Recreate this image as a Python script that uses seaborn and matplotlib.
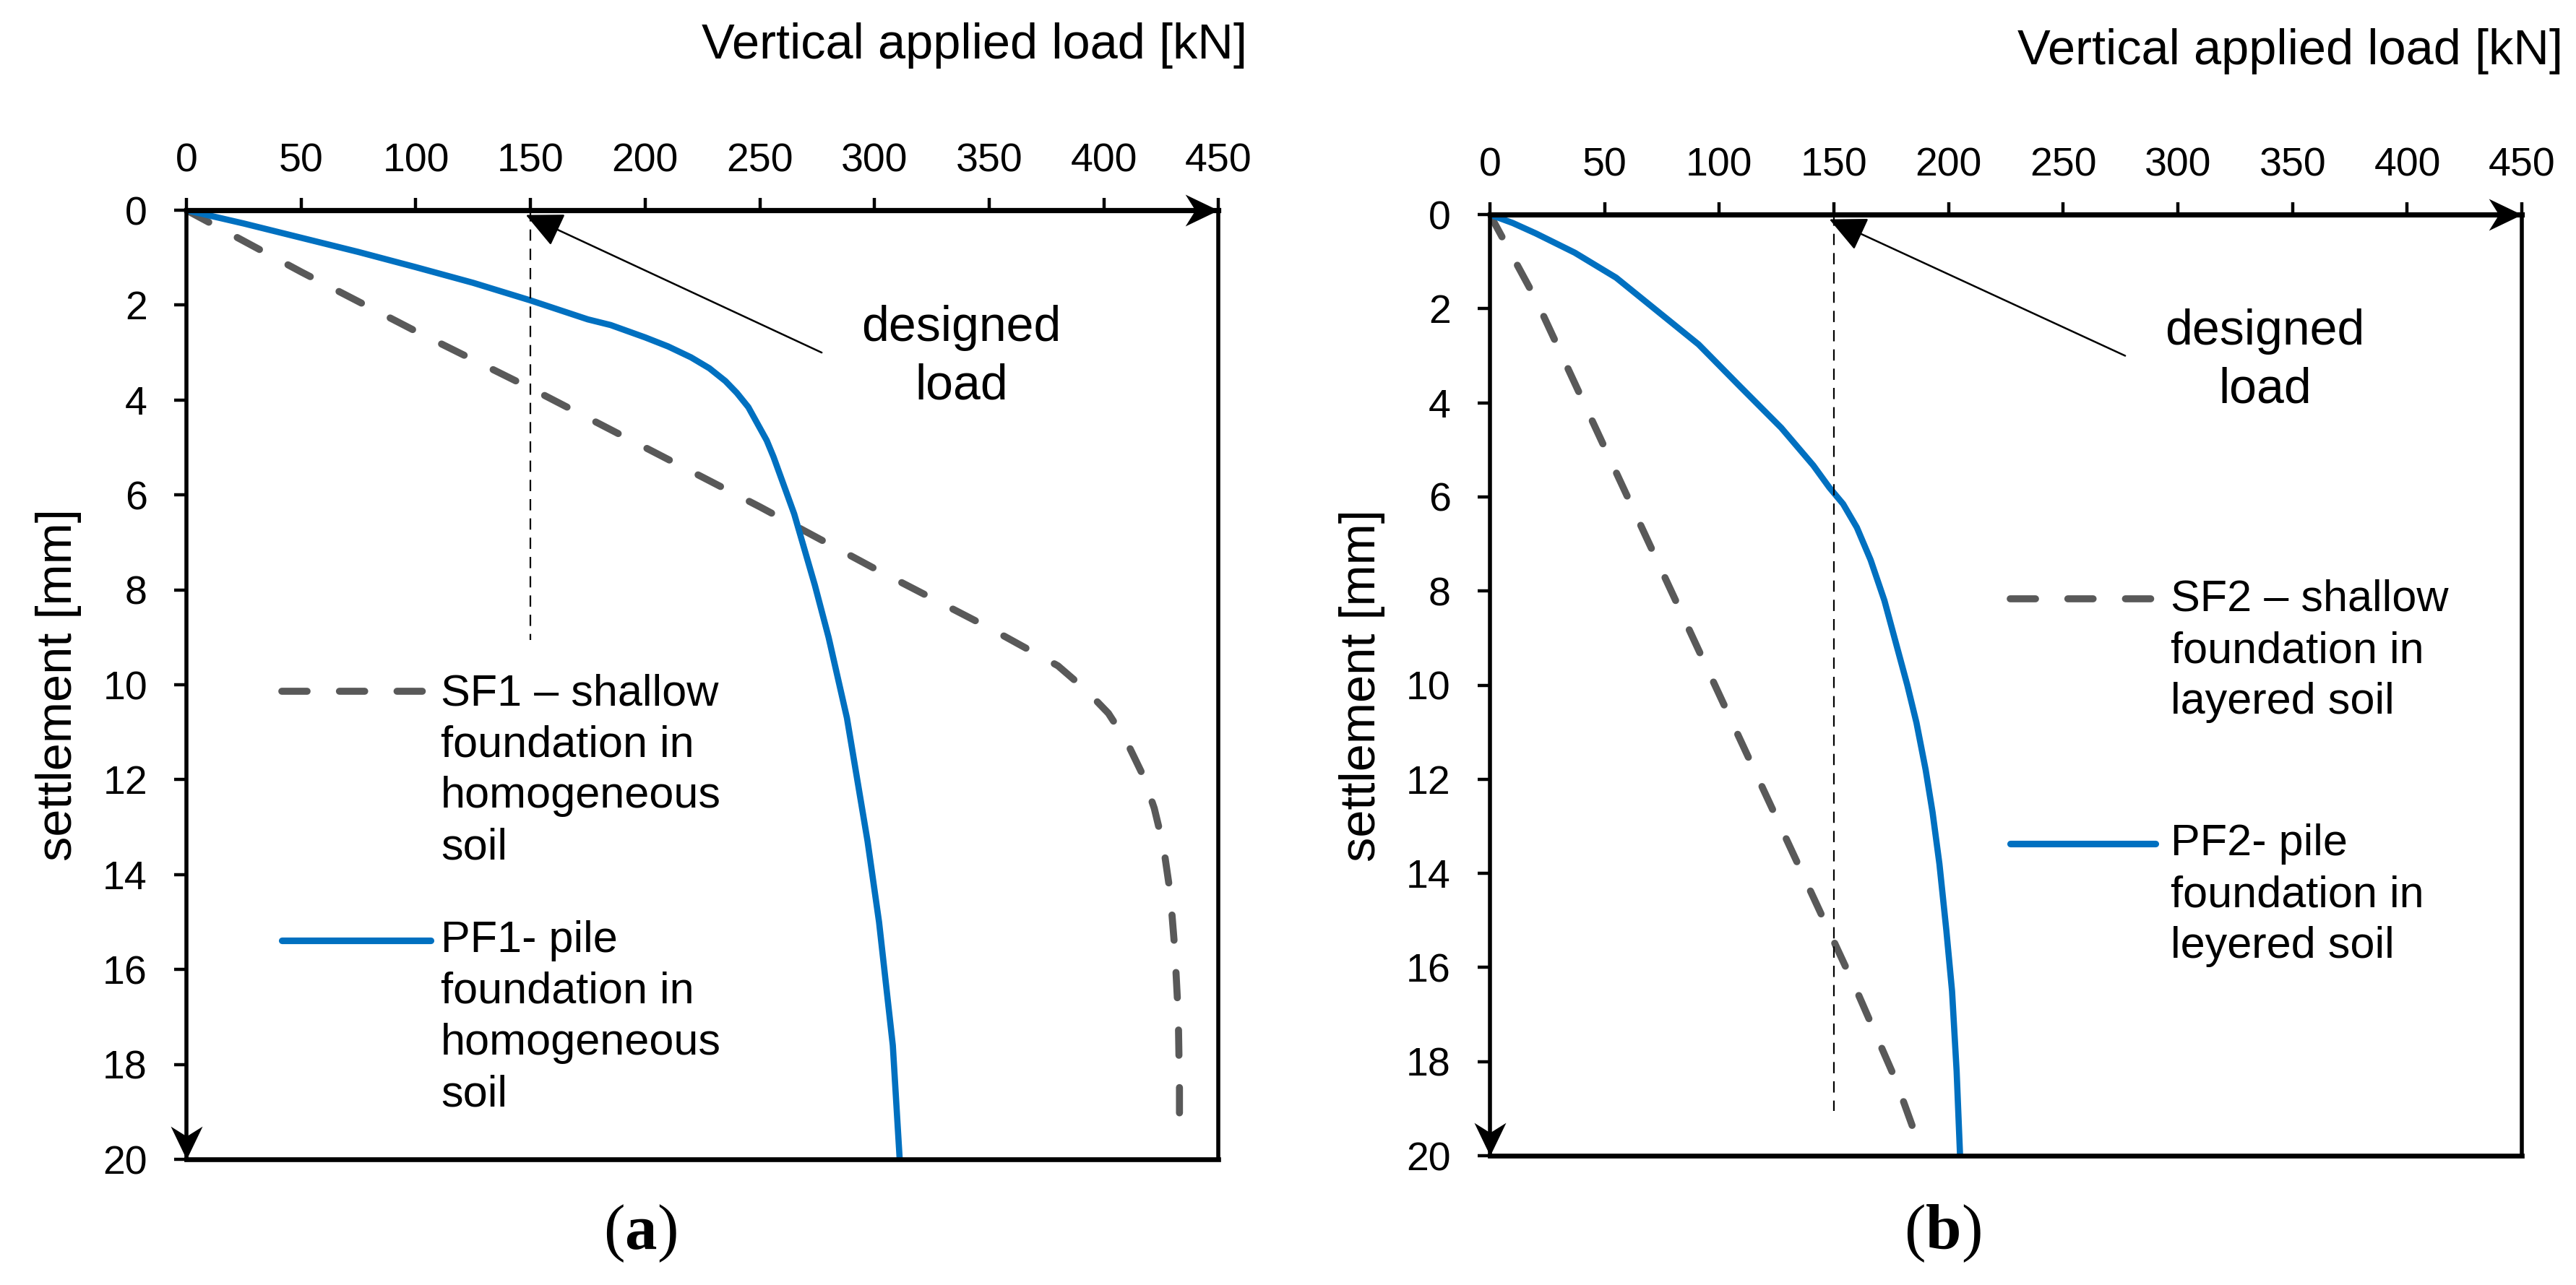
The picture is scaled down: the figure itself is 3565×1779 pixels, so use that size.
import matplotlib
matplotlib.use("Agg")
import matplotlib.pyplot as plt
from matplotlib.path import Path
import seaborn as sns

# values: load [kN] -> settlement [mm]
sf1_load = [0, 50, 100, 150, 200, 250, 275, 300, 330, 350, 365, 380, 392, 402, 410,
            417, 422, 426, 429, 431, 432.5, 433, 433]
sf1_settl = [0, 1.3, 2.55, 3.75, 5.0, 6.25, 6.9, 7.55, 8.3, 8.8, 9.2, 9.6, 10.1, 10.6, 11.2,
             11.9, 12.6, 13.4, 14.4, 15.6, 17.0, 18.5, 19.6]

pf1_load = [0, 25, 50, 75, 100, 125, 150, 175, 185, 200, 210, 220, 228, 235, 240, 245,
            249, 253, 256, 259, 262, 265, 268, 274, 280, 288, 297, 302, 308, 311]
pf1_settl = [0, 0.28, 0.58, 0.88, 1.2, 1.53, 1.9, 2.3, 2.42, 2.68, 2.87, 3.1, 3.33, 3.6, 3.85,
             4.15, 4.5, 4.85, 5.2, 5.6, 6.0, 6.4, 6.9, 7.9, 9.0, 10.7, 13.3, 15.0, 17.6, 20.0]

sf2_load = [0, 20, 40, 60, 80, 100, 120, 140, 160, 177, 187]
sf2_settl = [0, 1.8, 3.9, 6.0, 8.1, 10.2, 12.3, 14.4, 16.5, 18.4, 19.75]

pf2_load = [0, 10, 20, 37, 55, 73, 91, 109, 127, 141, 148, 154, 160, 166, 172, 177, 182,
            186, 190, 193, 196, 199, 201.5, 203.5, 205]
pf2_settl = [0, 0.18, 0.4, 0.81, 1.34, 2.05, 2.76, 3.65, 4.53, 5.33, 5.8, 6.15, 6.65, 7.34,
             8.2, 9.1, 10.0, 10.8, 11.8, 12.7, 13.8, 15.2, 16.5, 18.2, 20.0]

design_load = 150
guide_end = [9.05, 19.05]
x_ticks = list(range(0, 451, 50))
y_ticks = list(range(0, 21, 2))

sf_labels = ["SF1 \u2013 shallow\nfoundation in\nhomogeneous\nsoil",
             "SF2 \u2013 shallow\nfoundation in\nlayered soil"]
pf_labels = ["PF1- pile\nfoundation in\nhomogeneous\nsoil",
             "PF2- pile\nfoundation in\nleyered soil"]
panel_tags = [r"$\mathrm{(}\mathbf{a}\mathrm{)}$", r"$\mathrm{(}\mathbf{b}\mathrm{)}$"]

sns.set_theme(style="white", rc={"axes.edgecolor": "black", "xtick.color": "black",
                                 "ytick.color": "black", "text.color": "black",
                                 "axes.labelcolor": "black"})
plt.rcParams["font.family"] = ["Liberation Sans", "DejaVu Sans"]
plt.rcParams["mathtext.fontset"] = "custom"
plt.rcParams["mathtext.rm"] = "Liberation Serif"
plt.rcParams["mathtext.bf"] = "Liberation Serif:bold"

GREY = "#595959"
BLUE = "#0070C0"
DASH = (0, (3.6, 4.6))

# concave arrow heads for the axis ends
C = [Path.MOVETO, Path.LINETO, Path.LINETO, Path.LINETO, Path.CLOSEPOLY]
arrow_right = Path([(0, 0), (-1, 0.48), (-0.7, 0), (-1, -0.48), (0, 0)], C)
arrow_down = Path([(0, 0), (0.48, 1), (0, 0.7), (-0.48, 1), (0, 0)], C)

fig = plt.figure(figsize=(17.825, 8.895), dpi=200)
ax1 = fig.add_axes([0.0724, 0.0978, 0.4006, 0.7386])
ax2 = fig.add_axes([0.5784, 0.1006, 0.4006, 0.7324])

panels = [
    (ax1, sf1_load, sf1_settl, pf1_load, pf1_settl,
     dict(hx=(0.0924, 0.2367), tx=0.2465, sy=0.4932, st=0.512, py=0.2306, pt=0.252, title_x=1.028)),
    (ax2, sf2_load, sf2_settl, pf2_load, pf2_settl,
     dict(hx=(0.504, 0.645), tx=0.6597, sy=0.5917, st=0.6125, py=0.3315, pt=0.353, title_x=1.04)),
]

for i, (ax, sl, ss, pl, ps, leg) in enumerate(panels):
    sns.lineplot(x=sl, y=ss, ax=ax, sort=False, estimator=None, color=GREY,
                 linewidth=3.5, linestyle=DASH, dash_capstyle="round")
    sns.lineplot(x=pl, y=ps, ax=ax, sort=False, estimator=None, color=BLUE,
                 linewidth=3.1)

    ax.vlines(design_load, 0, guide_end[i], colors="black", linewidth=0.8,
              linestyles=[(0, (7, 5))])
    ax.annotate("", xy=(design_load - 2, 0.1), xytext=(277, 3.0),
                arrowprops=dict(arrowstyle="-|>,head_length=0.8,head_width=0.38",
                                mutation_scale=20, lw=0.9, color="black",
                                shrinkA=0, shrinkB=0))
    ax.text(338, 3.1, "designed\nload", ha="center", va="center",
            fontsize=24.5, linespacing=1.33)

    ax.set_xlim(0, 450)
    ax.set_ylim(20, 0)
    ax.set_xticks(x_ticks)
    ax.set_yticks(y_ticks)
    ax.xaxis.tick_top()
    ax.tick_params(axis="x", top=True, bottom=False, direction="out", length=6,
                   width=1.6, pad=9, labelsize=20, colors="black")
    ax.tick_params(axis="y", left=True, direction="out", length=6,
                   width=1.6, pad=13.5, labelsize=20, colors="black")
    ax.set_xlabel("")
    ax.set_ylabel("settlement [mm]", fontsize=24.7)
    ax.yaxis.set_label_coords(-0.1015, 0.5)
    ax.text(leg["title_x"], 1.16, "Vertical applied load [kN]", transform=ax.transAxes,
            ha="right", va="baseline", fontsize=24.7)

    for side, w in [("top", 2.6), ("bottom", 2.4), ("left", 2.0), ("right", 2.0)]:
        ax.spines[side].set_visible(True)
        ax.spines[side].set_linewidth(w)
        ax.spines[side].set_color("black")

    ax.plot([1], [1], transform=ax.transAxes, marker=arrow_right, ms=33,
            color="black", mew=0, linestyle="none", clip_on=False, zorder=5)
    ax.plot([0], [0], transform=ax.transAxes, marker=arrow_down, ms=33,
            color="black", mew=0, linestyle="none", clip_on=False, zorder=5)

    # hand-made legend, handle aligned with the first text line
    ax.plot(leg["hx"], [leg["sy"], leg["sy"]], transform=ax.transAxes, color=GREY,
            linewidth=3.5, linestyle=DASH, dash_capstyle="round")
    ax.text(leg["tx"], leg["st"], sf_labels[i], transform=ax.transAxes,
            ha="left", va="top", fontsize=22, linespacing=1.32)
    ax.plot(leg["hx"], [leg["py"], leg["py"]], transform=ax.transAxes, color=BLUE,
            linewidth=3.3, solid_capstyle="round")
    ax.text(leg["tx"], leg["pt"], pf_labels[i], transform=ax.transAxes,
            ha="left", va="top", fontsize=22, linespacing=1.32)

fig.text(0.2485, 0.040, panel_tags[0], ha="center", va="center", fontsize=32)
fig.text(0.754, 0.040, panel_tags[1], ha="center", va="center", fontsize=32)

fig.savefig("out.png", dpi=200)
